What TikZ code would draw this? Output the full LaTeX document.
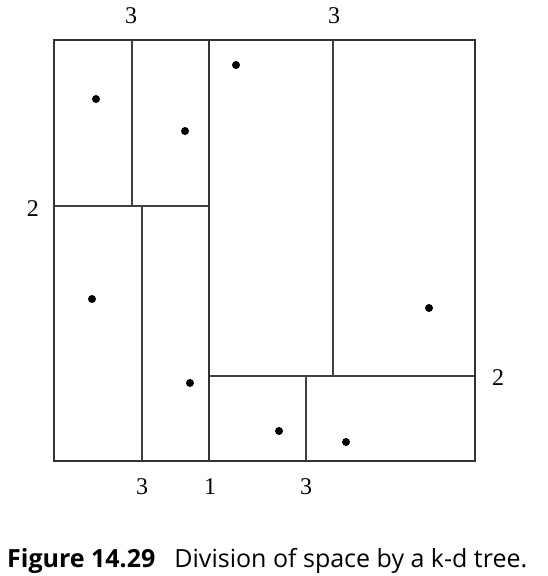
\documentclass[tikz,border=0pt]{standalone}
\usepackage{fontspec}
\setmainfont{Liberation Serif}
\newfontfamily\capfont{Open Sans}
\begin{document}
\begin{tikzpicture}[x=1pt,y=-1pt,
  thick/.style={line width=1.8pt,draw=black!80},
  thin/.style={line width=1.1pt,draw=black!75},
  pt/.style={circle,fill=black,inner sep=0pt,minimum size=8pt},
  lbl/.style={font=\fontsize{24}{24}\selectfont,inner sep=0pt}]
\useasboundingbox (0,0) rectangle (548,576);
% thin splits
\draw[thin] (132,40) -- (132,206);
\draw[thin] (54,206) -- (209,206);
\draw[thin] (142,206) -- (142,461);
\draw[thin] (209,376) -- (475,376);
\draw[thin] (333,40) -- (333,376);
\draw[thin] (306,376) -- (306,461);
% main split and outer box
\draw[thick] (209,40) -- (209,461);
\draw[thick] (54,40) rectangle (475,461);
% points
\node[pt] (p1) at (96,99) {};
\node[pt] (p2) at (185,131) {};
\node[pt] (p3) at (236,65) {};
\node[pt] (p4) at (92,299) {};
\node[pt] (p5) at (190,383) {};
\node[pt] (p6) at (279,431) {};
\node[pt] (p7) at (346,442) {};
\node[pt] (p8) at (429,308) {};
% labels
\node[lbl] (t1) at (131,16) {3};
\node[lbl] (t2) at (334,16) {3};
\node[lbl] (l1) at (33,209) {2};
\node[lbl] (r1) at (498,378) {2};
\node[lbl] (b1) at (142,487) {3};
\node[lbl] (b2) at (210,487) {1};
\node[lbl] (b3) at (306,487) {3};
% caption
\node[anchor=base west,inner sep=0pt,font=\capfont\fontsize{25}{25}\selectfont] (cap) at (7,567) {\textbf{Figure 14.29}\hspace{19pt}Division of space by a k-d tree.};
\end{tikzpicture}
\end{document}
